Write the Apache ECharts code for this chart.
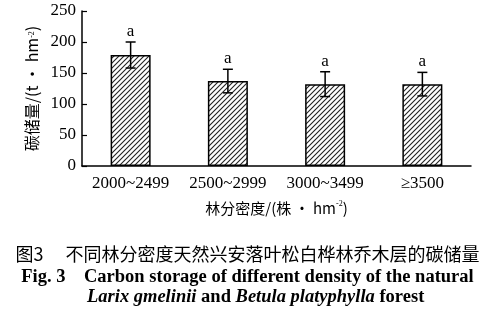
<!DOCTYPE html>
<html><head><meta charset="utf-8">
<script src="https://cdn.jsdelivr.net/npm/echarts@6/dist/echarts.min.js"></script>
<style>html,body{margin:0;padding:0;background:#fff}#c{width:495px;height:318px}</style>
</head><body><div id="c"></div>
<script>
const categories = ['2000~2499', '2500~2999', '3000~3499', '≥3500'];
const carbon = [179, 137, 132, 132];
const errors = [21, 19, 20, 19];
const letters = ['a', 'a', 'a', 'a'];
const yTicks = {min: 0, max: 250, interval: 50};

const pc = document.createElement('canvas');
pc.width = 5; pc.height = 5;
const g = pc.getContext('2d');
g.fillStyle = '#fff'; g.fillRect(0, 0, 5, 5);
g.strokeStyle = '#222'; g.lineWidth = 1.1;
g.beginPath();
g.moveTo(-1, 6); g.lineTo(6, -1);
g.moveTo(-1, 1); g.lineTo(1, -1);
g.moveTo(4, 6); g.lineTo(6, 4);
g.stroke();

const serif = '"Liberation Serif", "Times New Roman", serif';
const cjk = '"Noto Sans CJK SC", sans-serif';
const chart = echarts.init(document.getElementById('c'));
chart.setOption({
  animation: false,
  backgroundColor: '#fff',
  grid: {left: 82, right: 24, top: 11, bottom: 152},
  xAxis: {
    type: 'category', data: categories,
    axisLine: {lineStyle: {color: '#000', width: 1.5}},
    axisTick: {inside: true, length: 5, lineStyle: {color: '#000', width: 1.2}},
    axisLabel: {color: '#000', fontFamily: serif, fontSize: 17, margin: 9, interval: 0, hideOverlap: false},
    name: '林分密度/(株 · hm{s|-2})',
    nameLocation: 'middle', nameGap: 34,
    nameTextStyle: {color: '#000', fontFamily: cjk, fontSize: 15,
      rich: {s: {fontSize: 8, verticalAlign: 'top', padding: [0,0,8,0], fontFamily: serif}}}
  },
  yAxis: {
    type: 'value', min: yTicks.min, max: yTicks.max, interval: yTicks.interval,
    splitLine: {show: false},
    axisLine: {show: true, lineStyle: {color: '#000', width: 1.5}},
    axisTick: {show: true, inside: true, length: 5, lineStyle: {color: '#000', width: 1.2}},
    axisLabel: {color: '#000', fontFamily: serif, fontSize: 17, margin: 6},
    name: '碳储量/(t · hm{s|-2})',
    nameLocation: 'middle', nameGap: 40, nameRotate: 90,
    nameTextStyle: {color: '#000', fontFamily: cjk, fontSize: 16,
      rich: {s: {fontSize: 8, fontFamily: serif}}}
  },
  series: [
    {
      type: 'bar', data: carbon, barWidth: 40,
      itemStyle: {color: {image: pc, repeat: 'repeat'}, borderColor: '#000', borderWidth: 1.5}
    },
    {
      type: 'custom', z: 10,
      data: carbon.map((v, i) => [i, v, errors[i]]),
      renderItem: function (params, api) {
        const i = api.value(0), v = api.value(1), e = api.value(2);
        const top = api.coord([i, v + e]);
        const bot = api.coord([i, v - e]);
        const w = 5;
        return {type: 'group', children: [
          {type: 'line', shape: {x1: top[0], y1: top[1], x2: bot[0], y2: bot[1]}, style: {stroke: '#000', lineWidth: 1.5}},
          {type: 'line', shape: {x1: top[0]-w, y1: top[1], x2: top[0]+w, y2: top[1]}, style: {stroke: '#000', lineWidth: 1.5}},
          {type: 'line', shape: {x1: bot[0]-w, y1: bot[1], x2: bot[0]+w, y2: bot[1]}, style: {stroke: '#000', lineWidth: 1.5}},
          {type: 'text', style: {text: letters[params.dataIndex], x: top[0], y: top[1] - 2, align: 'center', verticalAlign: 'bottom', fill: '#000', font: '17px ' + serif}}
        ]};
      }
    }
  ],
  graphic: [
    {type: 'text', left: 'center', top: 245, style: {text: '图3　 不同林分密度天然兴安落叶松白桦林乔木层的碳储量', fill: '#000', font: '18px ' + cjk}},
    {type: 'text', left: 'center', top: 268, style: {text: 'Fig. 3    Carbon storage of different density of the natural', fill: '#000', font: 'bold 18.5px ' + serif}},
    {type: 'text', left: 87, top: 288, style: {rich: {i: {fontStyle: 'italic', fontWeight: 'bold', fontSize: 18.5, fontFamily: serif, fill: '#000'}, n: {fontWeight: 'bold', fontSize: 18.5, fontFamily: serif, fill: '#000'}}, text: '{i|Larix gmelinii}{n| and }{i|Betula platyphylla}{n| forest}'}}
  ]
});
</script></body></html>
